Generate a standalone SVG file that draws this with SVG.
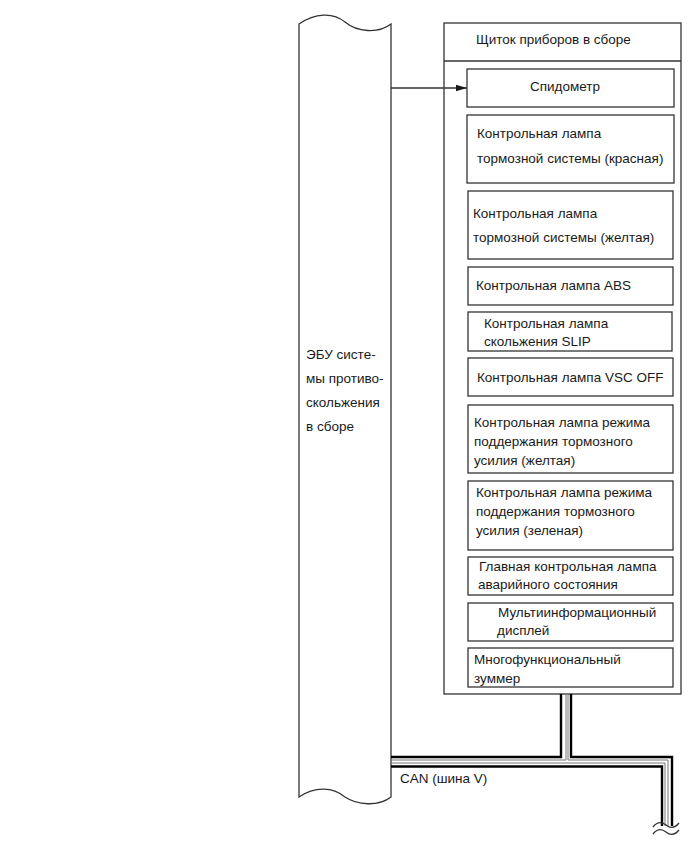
<svg xmlns="http://www.w3.org/2000/svg" width="689" height="853" viewBox="0 0 689 853">
<defs>
<style>
.t{font-family:"Liberation Sans",Arial,sans-serif;font-size:13.5px;fill:#1a1a1a}
.bx{fill:#fff;stroke:#333;stroke-width:1.3}
.sh{fill:none;stroke:#333;stroke-width:1.3}
.wb{fill:none;stroke:#000;stroke-width:2.4}
.wg{fill:none;stroke:#777;stroke-width:1}
</style>
<marker id="arr" markerWidth="12" markerHeight="8" refX="11" refY="4" orient="auto" markerUnits="userSpaceOnUse">
<path d="M0,0.8 L11,4 L0,7.2 Z" fill="#1a1a1a"/>
</marker>
</defs>
<rect width="689" height="853" fill="#fff"/>

<g id="ecu">
<path class="sh" d="M299,24 C315,13 333,12 345,22 C357,32 378,34 391,24 V797 C378,807 357,805 345,797 C333,787 315,786 299,797 Z" fill="#fff"/>
<text class="t" x="306" y="359">ЭБУ систе-</text>
<text class="t" x="306" y="383">мы противо-</text>
<text class="t" x="306" y="407">скольжения</text>
<text class="t" x="306" y="431">в сборе</text>
</g>

<g id="cluster">
<rect class="bx" x="444" y="23" width="237" height="671"/>
<line class="sh" x1="444" y1="61" x2="681" y2="61"/>
<text class="t" x="476" y="44">Щиток приборов в сборе</text>
</g>

<g id="speedometer">
<rect class="bx" x="467" y="69" width="207" height="38"/>
<text class="t" x="530" y="91">Спидометр</text>
</g>
<g id="brake-red">
<rect class="bx" x="467" y="115" width="207" height="68"/>
<text class="t" x="477" y="138">Контрольная лампа</text>
<text class="t" x="477" y="163">тормозной системы (красная)</text>
</g>
<g id="brake-yellow">
<rect class="bx" x="468" y="191" width="205" height="68"/>
<text class="t" x="473" y="218">Контрольная лампа</text>
<text class="t" x="473" y="242">тормозной системы (желтая)</text>
</g>
<g id="abs">
<rect class="bx" x="468" y="267" width="205" height="38"/>
<text class="t" x="476" y="290">Контрольная лампа ABS</text>
</g>
<g id="slip">
<rect class="bx" x="468" y="312" width="204" height="39"/>
<text class="t" x="484" y="328">Контрольная лампа</text>
<text class="t" x="484" y="346">скольжения SLIP</text>
</g>
<g id="vsc-off">
<rect class="bx" x="468" y="358" width="205" height="38"/>
<text class="t" x="477" y="382">Контрольная лампа VSC OFF</text>
</g>
<g id="brake-hold-yellow">
<rect class="bx" x="468" y="405" width="205" height="68"/>
<text class="t" x="474" y="427">Контрольная лампа режима</text>
<text class="t" x="474" y="446">поддержания тормозного</text>
<text class="t" x="474" y="465">усилия (желтая)</text>
</g>
<g id="brake-hold-green">
<rect class="bx" x="468" y="481" width="205" height="69"/>
<text class="t" x="476" y="497">Контрольная лампа режима</text>
<text class="t" x="476" y="516">поддержания тормозного</text>
<text class="t" x="476" y="535">усилия (зеленая)</text>
</g>
<g id="master-warning">
<rect class="bx" x="468" y="557" width="205" height="38"/>
<text class="t" x="479" y="571">Главная контрольная лампа</text>
<text class="t" x="478" y="589">аварийного состояния</text>
</g>
<g id="multi-display">
<rect class="bx" x="468" y="603" width="205" height="38"/>
<text class="t" x="498" y="617">Мультиинформационный</text>
<text class="t" x="497" y="635">дисплей</text>
</g>
<g id="buzzer">
<rect class="bx" x="468" y="648" width="205" height="39"/>
<text class="t" x="474" y="664">Многофункциональный</text>
<text class="t" x="474" y="683">зуммер</text>
</g>

<g id="connectors">
<line class="sh" x1="391" y1="88" x2="467" y2="88" marker-end="url(#arr)"/>
<path class="wb" d="M391,757 H561 V694"/>
<path class="wg" d="M391,760 H566 V694"/>
<path class="wg" d="M568,694 V760 H668 V826"/>
<path class="wb" d="M571,694 V757 H672 V826"/>
<path class="wg" d="M391,763 H665 V826"/>
<path class="wb" d="M391,766.5 H662 V826"/>
<path class="sh" d="M653,827 C657,822 661,821 666,825 C671,829 675,828 679,823"/>
<path class="sh" d="M653,834 C657,829 661,828 666,832 C671,836 675,835 679,830"/>
<text class="t" x="400" y="783">CAN (шина V)</text>
</g>
</svg>
